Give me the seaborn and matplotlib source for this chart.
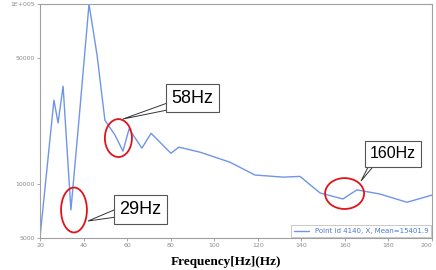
import matplotlib.pyplot as plt
import numpy as np
import pandas as pd
import seaborn as sns
from matplotlib.patches import Ellipse, Polygon

sns.set_theme(style="white")

# values
freq = [20.0, 26.4, 28.3, 30.6, 34.2, 38.4, 42.5, 46.2, 49.8, 54.4, 58.1,
        60.9, 66.8, 71.0, 80.1, 83.8, 93.5, 107.2, 118.7, 131.6, 139.4,
        148.6, 159.1, 165.5, 176.1, 188.5, 200.0]
amp = [5050, 29200, 21800, 34900, 7160, 26700, 99800, 52000, 22600, 18700,
       15200, 20200, 15800, 19100, 14800, 16000, 15000, 13200, 11200, 10900,
       11000, 8900, 8240, 9260, 8780, 7900, 8660]
series_name = "Point id 4140, X, Mean=15401.9"
x_ticks = [20, 40, 60, 80, 100, 120, 140, 160, 180, 200]
y_ticks = [5000, 10000, 50000, 100000]
y_tick_labels = ["5000", "10000", "50000", "1E+005"]
callouts = ["29Hz", "58Hz", "160Hz"]

df = pd.DataFrame({"Frequency": freq, "Amplitude": amp, "series": series_name})

fig = plt.figure(figsize=(4.36, 2.70), dpi=100)
ax = fig.add_axes([40 / 436, 32 / 270, 392 / 436, 234 / 270])

sns.lineplot(df, x="Frequency", y="Amplitude", hue="series",
             palette=["#6f95e8"], linewidth=1.0, ax=ax)

ax.set_yscale("log")
ax.set_xlim(20, 200)
ax.set_ylim(5000, 100000)
ax.set_xticks(x_ticks)
ax.set_xticklabels([str(t) for t in x_ticks])
ax.set_yticks(y_ticks)
ax.set_yticklabels(y_tick_labels)
ax.yaxis.set_minor_locator(plt.NullLocator())
ax.tick_params(axis="both", labelsize=4.5, labelcolor="#8c8c8c", color="#999999",
               length=2, width=0.6, pad=1.5, direction="out")
ax.tick_params(axis="y", left=True)
ax.tick_params(axis="x", bottom=True)
ax.get_xticklabels()[-1].set_horizontalalignment("right")
for s in ax.spines.values():
    s.set_color("#a0a0a0")
    s.set_linewidth(0.8)

ax.set_ylabel("")
ax.set_xlabel("Frequency[Hz](Hz)", fontsize=9.5, fontweight="bold",
              family="Liberation Serif", color="black")
ax.xaxis.set_label_coords(0.474, -0.075)

leg = ax.legend(loc="lower right", fontsize=5, frameon=True, fancybox=False,
                edgecolor="#b0b0b0", handlelength=2.2, borderpad=0.4,
                borderaxespad=0.15, labelcolor="#4a78d8")
leg.get_frame().set_linewidth(0.6)

# red ellipses (axes fraction)
ellipses = [((0.0867, 0.1197), 0.066, 0.192),
            ((0.200, 0.427), 0.069, 0.162),
            ((0.777, 0.190), 0.0995, 0.132)]
for (cx, cy), w, h in ellipses:
    ax.add_patch(Ellipse((cx, cy), w, h, transform=ax.transAxes, fill=False,
                         edgecolor="#e0141e", linewidth=1.3, zorder=5))

# callout wedges and boxes
wedges = [[(0.195, 0.124), (0.195, 0.0897), (0.1224, 0.0726)],
          [(0.325, 0.577), (0.325, 0.547), (0.2117, 0.5085)],
          [(0.845, 0.33), (0.862, 0.33), (0.819, 0.2436)]]
for pts in wedges:
    ax.add_patch(Polygon(pts, closed=True, transform=ax.transAxes,
                         facecolor="white", edgecolor="#333333",
                         linewidth=0.7, zorder=6))

boxes = [((0.256, 0.122), 13), ((0.389, 0.598), 13), ((0.900, 0.359), 11.5)]
for text, ((bx, by), fs) in zip(callouts, boxes):
    ax.text(bx, by, text, transform=ax.transAxes, ha="center", va="center",
            fontsize=fs, family="Liberation Sans", color="black", zorder=7,
            bbox=dict(boxstyle="square,pad=0.32", facecolor="white",
                      edgecolor="#555555", linewidth=0.8))

fig.savefig("out.png", dpi=100)
